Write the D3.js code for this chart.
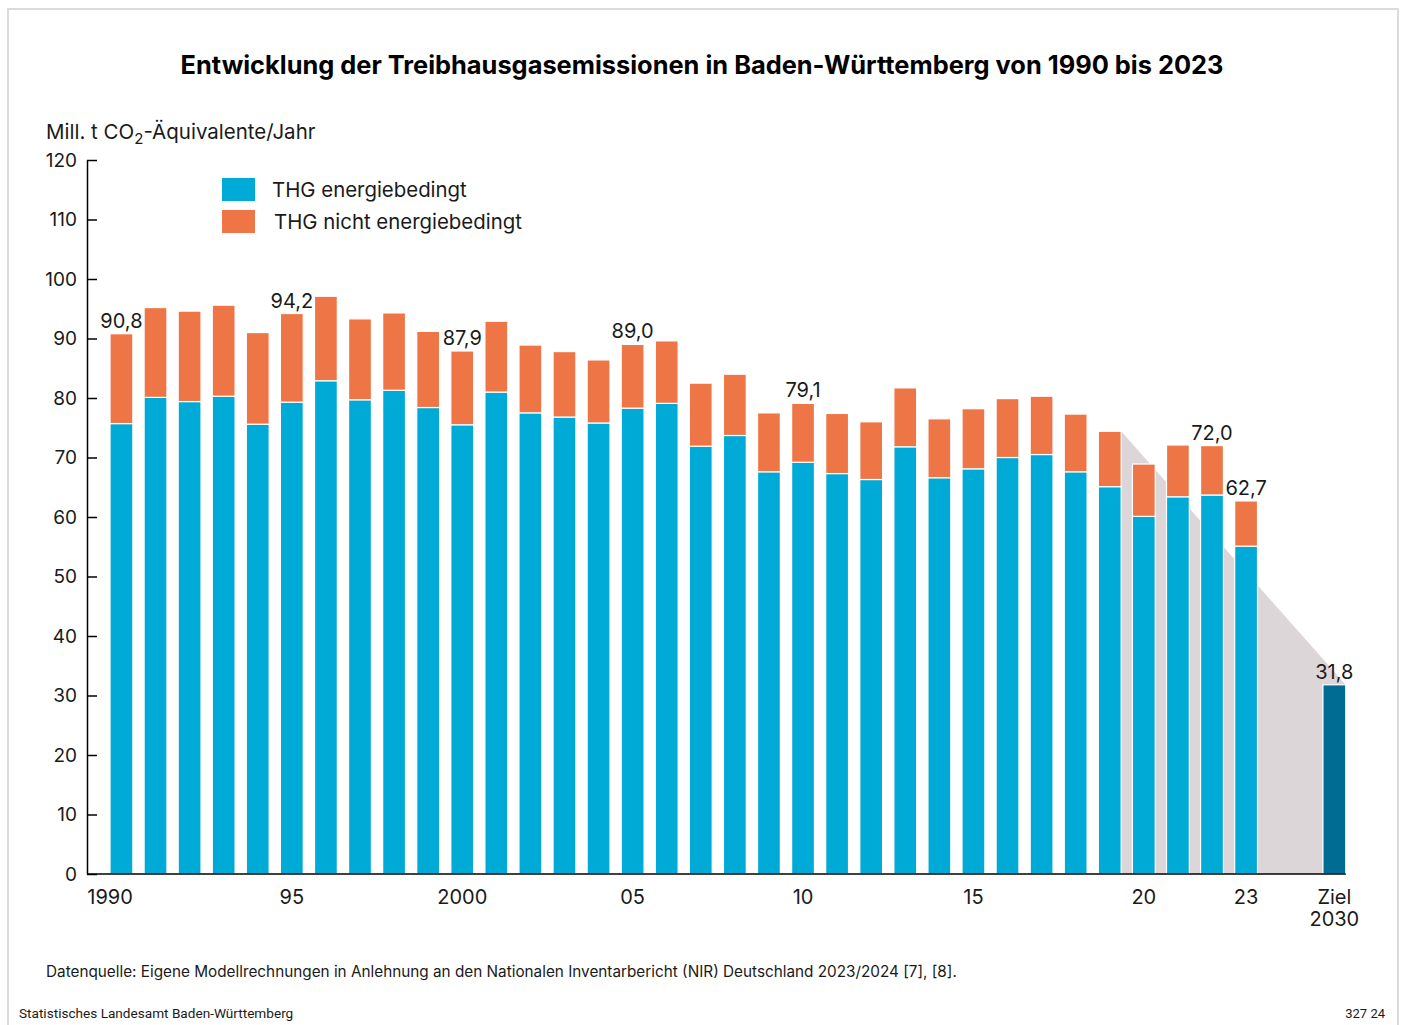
<!DOCTYPE html>
<html>
<head>
<meta charset="utf-8">
<script src="https://cdn.jsdelivr.net/npm/d3@7"></script>
<style>
    body { margin: 0; background: #fff; }
    text { font-family: Inter, "Noto Sans", sans-serif; fill: #1a1a1a; }
</style>
</head>
<body>
<div id="chart"></div>
<script>
// data
const years = d3.range(1990, 2024);
const energy = [75.7, 80.1, 79.4, 80.3, 75.6, 79.3, 82.9, 79.7, 81.3, 78.4,
    75.5, 81.0, 77.5, 76.8, 75.8, 78.3, 79.1, 71.9, 73.7, 67.6,
    69.2, 67.3, 66.3, 71.8, 66.6, 68.1, 70.0, 70.5, 67.6, 65.1,
    60.1, 63.4, 63.7, 55.1];
const nonEnergy = [15.1, 15.1, 15.2, 15.3, 15.4, 14.9, 14.2, 13.6, 13.0, 12.8,
    12.4, 11.9, 11.4, 11.0, 10.6, 10.7, 10.5, 10.6, 10.3, 9.9,
    9.9, 10.1, 9.7, 9.9, 9.9, 10.1, 9.9, 9.8, 9.7, 9.3,
    8.8, 8.7, 8.3, 7.6];
const target = {label: "Ziel 2030", value: 31.8};
const labelYears = [1990, 1995, 2000, 2005, 2010, 2022, 2023];
const xTickYears = [1990, 1995, 2000, 2005, 2010, 2015, 2020, 2023];
const xTickLabels = ["1990", "95", "2000", "05", "10", "15", "20", "23"];
const yTicks = [0, 10, 20, 30, 40, 50, 60, 70, 80, 90, 100, 110, 120];
const seriesNames = ["THG energiebedingt", "THG nicht energiebedingt"];
const trendFromYear = 2019;

const colors = {energy: "#00aad7", nonEnergy: "#ee7646", target: "#006c94", area: "#dcd6d8"};

const de = d3.formatLocale({decimal: ",", thousands: ".", grouping: [3], currency: ["", " €"]});
const fmt = de.format(".1f");

const W = 1402, H = 1025;
const svg = d3.select("#chart").append("svg")
    .attr("width", W)
    .attr("height", H);

// frame
svg.append("rect")
    .attr("x", 8).attr("y", 9)
    .attr("width", 1390).attr("height", H + 10)
    .attr("fill", "none")
    .attr("stroke", "#dedada")
    .attr("stroke-width", 2);

// title
svg.append("text")
    .attr("x", 702).attr("y", 74)
    .attr("text-anchor", "middle")
    .style("font-size", "25.4px")
    .style("font-weight", 700)
    .style("fill", "#000")
    .text("Entwicklung der Treibhausgasemissionen in Baden-Württemberg von 1990 bis 2023");

// scales
let rows = years.map((y, i) => ({year: y, energy: energy[i], nonEnergy: nonEnergy[i]}));
let stacked = d3.stack().keys(["energy", "nonEnergy"])(rows);

let x = d3.scaleBand()
    .domain(years)
    .range([104.4, 104.4 + 34 * 34.08])
    .paddingInner(0.33)
    .paddingOuter(0.165);

let y = d3.scaleLinear()
    .domain([0, 120])
    .range([874, 160]);

let axisX0 = 87;
let targetX = x(2023) + x.step() * 2.59;

// grey trend area from 2019 down to the 2030 target
let total = (i) => Math.round((energy[i] + nonEnergy[i]) * 10) / 10;
let iTrend = years.indexOf(trendFromYear);
let trendPts = [
    [x(trendFromYear) + x.bandwidth(), y(total(iTrend))],
    [targetX + x.bandwidth(), y(target.value)],
    [targetX + x.bandwidth(), y(0)],
    [x(trendFromYear) + x.bandwidth(), y(0)]
];
svg.append("path")
    .attr("d", d3.line()(trendPts) + "Z")
    .attr("fill", colors.area);

// bars
let fills = [colors.energy, colors.nonEnergy];
svg.selectAll(".series")
    .data(stacked)
    .enter()
    .append("g")
    .attr("class", "series")
    .attr("fill", (d, i) => fills[i])
    .selectAll("rect")
    .data(d => d)
    .enter()
    .append("rect")
    .attr("x", d => x(d.data.year))
    .attr("y", d => y(d[1]))
    .attr("width", x.bandwidth())
    .attr("height", d => y(d[0]) - y(d[1]))
    .attr("stroke", "#fff")
    .attr("stroke-width", 1.2);

svg.append("rect")
    .attr("x", targetX)
    .attr("y", y(target.value))
    .attr("width", x.bandwidth())
    .attr("height", y(0) - y(target.value))
    .attr("fill", colors.target)
    .attr("stroke", "#fff")
    .attr("stroke-width", 1.2);

// value labels
svg.selectAll(".val")
    .data(labelYears)
    .enter()
    .append("text")
    .attr("class", "val")
    .attr("x", d => x(d) + x.bandwidth() / 2)
    .attr("y", d => y(total(years.indexOf(d))) - 6)
    .attr("text-anchor", "middle")
    .style("font-size", "20px")
    .text(d => fmt(total(years.indexOf(d))));

svg.append("text")
    .attr("x", targetX + x.bandwidth() / 2)
    .attr("y", y(target.value) - 6)
    .attr("text-anchor", "middle")
    .style("font-size", "20px")
    .text(fmt(target.value));

// y axis
let yAxis = svg.append("g")
    .attr("transform", `translate(${axisX0},0)`)
    .call(d3.axisLeft(y).tickValues(yTicks).tickSizeInner(-10).tickSizeOuter(0).tickPadding(10));
yAxis.select(".domain").attr("stroke", "#000").attr("stroke-width", 1.5);
yAxis.selectAll(".tick line").attr("stroke", "#000").attr("stroke-width", 1.5);
yAxis.selectAll(".tick text")
    .style("font-family", "Inter, sans-serif")
    .style("font-size", "19px")
    .attr("fill", "#1a1a1a");

// x axis
svg.append("line")
    .attr("x1", axisX0).attr("x2", targetX + x.bandwidth())
    .attr("y1", y(0)).attr("y2", y(0))
    .attr("stroke", "#000")
    .attr("stroke-width", 1.5);

svg.selectAll(".xlab")
    .data(xTickYears)
    .enter()
    .append("text")
    .attr("class", "xlab")
    .attr("x", (d, i) => i === 0 ? x(d) + x.bandwidth() : x(d) + x.bandwidth() / 2)
    .attr("y", y(0) + 30)
    .attr("text-anchor", (d, i) => i === 0 ? "end" : "middle")
    .style("font-size", "20px")
    .text((d, i) => xTickLabels[i]);

let tLab = svg.append("text")
    .attr("text-anchor", "middle")
    .style("font-size", "20px");
target.label.split(" ").forEach((w, i) => {
    tLab.append("tspan")
        .attr("x", targetX + x.bandwidth() / 2)
        .attr("y", y(0) + 30 + i * 22)
        .text(w);
});

// unit label
let unit = svg.append("text")
    .attr("x", 46).attr("y", 139)
    .style("font-size", "20.5px");
unit.append("tspan").text("Mill. t CO");
unit.append("tspan").attr("dy", 5).style("font-size", "15px").text("2");
unit.append("tspan").attr("dy", -5).text("-Äquivalente/Jahr");

// legend
let legend = svg.selectAll(".legend")
    .data(seriesNames)
    .enter()
    .append("g")
    .attr("class", "legend")
    .attr("transform", (d, i) => `translate(222, ${178 + i * 32})`);
legend.append("rect")
    .attr("width", 33).attr("height", 23)
    .attr("fill", (d, i) => fills[i]);
legend.append("text")
    .attr("x", (d, i) => i === 0 ? 50 : 52)
    .attr("y", 19)
    .style("font-size", "20.4px")
    .text(d => d);

// source + footer
svg.append("text")
    .attr("x", 46).attr("y", 977)
    .style("font-size", "15.3px")
    .text("Datenquelle: Eigene Modellrechnungen in Anlehnung an den Nationalen Inventarbericht (NIR) Deutschland 2023/2024 [7], [8].");

svg.append("text")
    .attr("x", 19).attr("y", 1018)
    .style("font-family", "Roboto, sans-serif")
    .style("font-size", "13.6px")
    .text("Statistisches Landesamt Baden-Württemberg");

svg.append("text")
    .attr("x", 1385).attr("y", 1018)
    .attr("text-anchor", "end")
    .style("font-family", "Roboto, sans-serif")
    .style("font-size", "13px")
    .text("327 24");
</script>
</body>
</html>
